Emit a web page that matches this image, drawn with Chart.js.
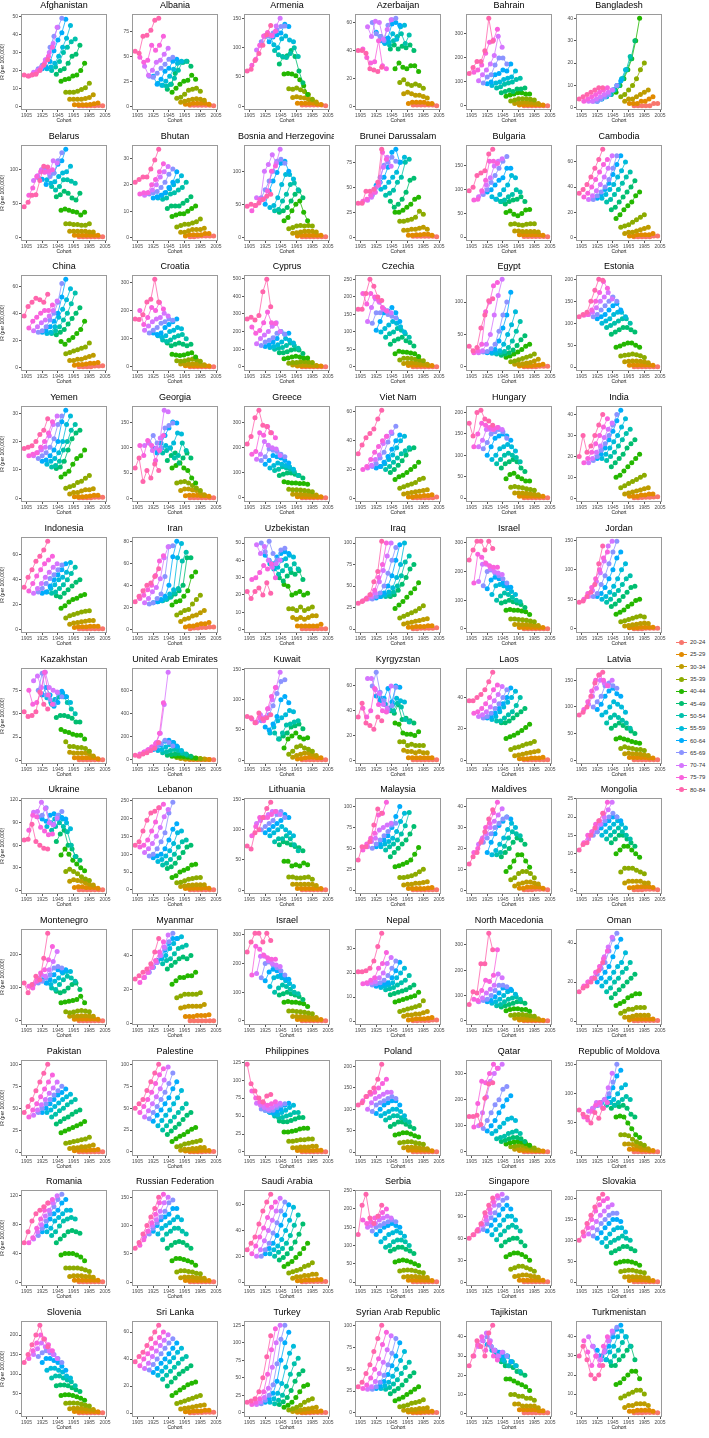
<!DOCTYPE html>
<html>
<head>
<meta charset="utf-8">
<script src="https://cdn.jsdelivr.net/npm/chart.js@4.4.0/dist/chart.umd.min.js"></script>
<style>
body{margin:0;background:#fff;width:709px;height:1438px;position:relative;overflow:hidden;font-family:"Liberation Sans",Arial,sans-serif}
canvas.panel{position:absolute}
#legend{position:absolute;left:676px;top:636px;font-size:6px;color:#333}
.item{height:12.3px;display:flex;align-items:center}
.key{position:relative;width:11px;height:6px;margin-right:3px}
.key i{position:absolute;left:0;right:0;top:2.5px;height:1px}
.key b{position:absolute;left:3px;top:0.5px;width:5px;height:5px;border-radius:50%}
</style>
</head>
<body>
<div id="legend"></div>
<script>
const ageGroups = ['20-24','25-29','30-34','35-39','40-44','45-49','50-54','55-59','60-64','65-69','70-74','75-79','80-84'];
const ageColors = ['#F8766D','#E18A00','#BE9C00','#8CAB00','#24B700','#00BE70','#00C1AB','#00BBDA','#00ACFC','#8B93FF','#D575FE','#F962DD','#FF65AC'];
// first birth cohort of each age group, then the 5-year steps of the periods
const cohortStart = [1972,1966,1960,1955,1949,1943,1937,1931,1925,1920,1914,1908,1902];
const periodOffsets = [0,5,10,15,20,25,30];
const xTicks = [1905,1925,1945,1965,1985,2005];

const countries = ['Afghanistan','Albania','Armenia','Azerbaijan','Bahrain','Bangladesh',
  'Belarus','Bhutan','Bosnia and Herzegovina','Brunei Darussalam','Bulgaria','Cambodia',
  'China','Croatia','Cyprus','Czechia','Egypt','Estonia',
  'Yemen','Georgia','Greece','Viet Nam','Hungary','India',
  'Indonesia','Iran','Uzbekistan','Iraq','Israel','Jordan',
  'Kazakhstan','United Arab Emirates','Kuwait','Kyrgyzstan','Laos','Latvia',
  'Ukraine','Lebanon','Lithuania','Malaysia','Maldives','Mongolia',
  'Montenegro','Myanmar','Israel','Nepal','North Macedonia','Oman',
  'Pakistan','Palestine','Philippines','Poland','Qatar','Republic of Moldova',
  'Romania','Russian Federation','Saudi Arabia','Serbia','Singapore','Slovakia',
  'Slovenia','Sri Lanka','Turkey','Syrian Arab Republic','Tajikistan','Turkmenistan'];

const yStep = [10,25,50,20,100,10,
  50,10,50,25,50,20,
  20,100,100,50,50,50,
  10,50,100,20,50,10,
  20,20,10,25,100,50,
  25,200,50,20,20,50,
  30,50,50,25,10,5,
  100,20,100,10,100,20,
  25,25,25,50,100,50,
  40,50,20,50,30,50,
  50,20,25,25,10,10];

// IR per 100,000; rows run from 80-84 down to 20-24, 7 periods each
const afghanistan = [[17.5,17,17.5,18,20,23,26],[17,18,19,21,24,28,33],[19,20,22,26,30,35,44],[21,23,26,33,39,44,49],[21,22,25,31,37,41,48.5],[21,22,24,28,33,38,45],[20,22,25,30,33,36,37.5],[18,20,21,24,28,29,34],[14,15,15.5,17,17.5,20,24],[8,8,8,8.5,9.5,10.5,13],[4,4,4,4,4.5,5,6.5],[1,1,1,1,1.2,1.5,2],[0.5,0.5,0.5,0.5,0.5,0.6,0.5]];
const albania = [[55,53,70,71,76,86,88],[49,44,46,61,56,61,70],[40,31,36,44,46,52,58],[30,29,33,38,42,47,49],[30,22,27,35,38,45,47],[23,21,25,30,37,43,45],[21,20,22,28,36,44,45],[17,22,33,44,44,45,40],[14,18,22,25,26,31,27],[8,9,12,16,17,18,15],[4,5,6,7,7.5,7,6],[2,2,3,3,3,3,2],[1,1,1,1,1,1,0.5]];
const armenia = [[60,63,78,90,104,122,138],[70,80,104,120,126,121,128],[96,104,120,122,120,137,150],[110,120,120,125,130,136,137],[120,110,118,122,125,140,136],[120,105,100,115,120,113,110],[95,88,85,83,90,100,85],[72,84,86,95,85,60,40],[55,56,55,52,45,35,20],[30,29,31,28,25,20,12],[15,16,15,14,12,10,7],[5,5,5,5,5,4,3],[2,2,2,2,2,2,1]];
const azerbaijan = [[40,40,38,27,26,25,28],[41,35,31,32,47,29,27],[57,50,61,60,48,55,62],[60,52,50,47,58,62,63],[53,47,46,49,59,60,58],[50,45,46,52,48,57,58],[48,44,47,50,52,45,51],[41,44,41,43,42,44,40],[27,31,28,27,29,29,25],[17,19,16,15,16,15,13],[9,10,9,8,8,7,6],[2,3,3,3,3,2,2],[1,1,1,1,1,1,0.5]];
const bahrain = [[135,160,185,185,230,365,270],[140,150,170,220,265,275,320],[105,130,150,175,210,290,245],[95,120,130,170,200,200,175],[92,100,130,135,150,145,175],[85,95,100,110,115,120,145],[75,80,90,95,100,110,115],[55,60,65,60,70,70,75],[40,45,50,55,55,50,50],[20,25,30,30,30,28,25],[10,12,15,15,14,12,10],[4,5,5,5,5,5,4],[1,1,1,1,1,1,1]];
const bangladesh = [[4,5,6,7,8,9,9],[3,4,5,6,7,8,9],[3,3,4,5,6,7,8],[3,3,4,5,6,8,10],[3,4,5,6,8,10,12],[4,5,6,8,10,13,17],[5,6,8,10,13,17,23],[6,8,10,13,17,22,30],[7,10,13,17,22,30,40],[5,6,8,10,13,17,20],[3,4,4,5,6,7,8],[2,2,2,3,3,4,5],[1,1,1,1,1,2,2]];
const belarus = [[45,52,62,63,84,105,104],[62,73,90,97,96,98,100],[84,91,100,97,95,113,110],[88,100,102,90,95,113,125],[86,78,92,95,108,113,130],[85,80,82,90,95,97,105],[75,70,75,85,85,83,80],[60,63,68,65,58,55,65],[40,42,40,38,37,33,37],[20,20,19,19,18,18,20],[9,9,9,9,9,8,8],[3,3,3,3,3,3,3],[1,1,1,1,1,1,1]];
const bhutan = [[21,22,23,23,26,29.5,33.5],[16.5,17,17,20,22,25,28],[16,17,18,20,23,25,27],[16.5,17,17.5,19,21,24,26],[15,15.5,16,17,19,21,25],[15,16,17,18.5,20,21.5,23.5],[14.5,15,16.5,17,18,19,21],[11,12,12,12,13,14,15.5],[8,8.5,9,9,10,11,12],[4,4.5,5,5,5.5,6,7],[2,2,2.5,3,3,3,3.5],[0.5,1,1,1,1,1.5,1.5],[0.3,0.3,0.4,0.5,0.5,0.5,0.5]];
const bosnia = [[47,50,48,52,57,62,65],[40,48,57,58,70,100,108],[60,56,100,110,125,112,133],[60,72,85,100,115,118,112],[50,70,85,98,112,115,100],[45,48,60,80,95,95,88],[40,42,55,65,80,82,72],[38,40,45,55,65,70,60],[25,30,40,50,55,38,25],[13,15,17,18,17,18,17],[6,7,8,9,9,9,8],[2,3,3,3,3,3,3],[1,1,1,1,1,1,1]];
const brunei = [[34,34,46,46,48,55,88],[36,38,42,45,52,85,78],[37,40,45,55,70,80,71],[42,50,60,72,75,80,76],[52,55,60,70,85,88,75],[48,50,55,60,65,75,80],[42,44,47,55,60,75,78],[36,30,33,38,45,57,59],[25,25,27,30,33,38,40],[16,16,17,18,20,26,23],[7,7,8,8,9,10,8],[2,2,2.5,2.5,3,3,2],[1,1,1,1,1,1,0.5]];
const bulgaria = [[98,105,130,135,140,175,185],[78,80,98,120,160,160,155],[85,95,110,125,150,160,165],[90,100,115,130,145,160,170],[95,100,110,120,125,145,145],[85,80,90,100,110,130,125],[80,75,78,85,90,100,95],[75,70,75,78,80,85,75],[52,55,48,45,50,57,58],[27,28,26,25,27,28,28],[13,13,12,12,12,12,11],[5,5,5,5,5,5,4],[1.5,1.5,1.5,1.5,1.5,1.5,1]];
const cambodia = [[35,38,42,48,55,62,70],[32,35,40,46,52,58,62],[30,33,37,42,48,55,65],[30,33,36,40,46,55,65],[31,34,38,43,50,58,65],[31,34,38,42,48,53,60],[28,30,34,38,43,48,52],[22,24,28,32,36,40,45],[15,18,22,25,28,33,36],[8,9,10,12,14,16,18],[3,4,4,5,6,7,8],[1,1,2,2,2,2,3],[0.5,0.5,0.5,0.5,0.5,1,1]];
const china = [[38,45,48,51,50,48,54],[29,34,37,40,42,42,46],[27,30,33,35,38,42,49],[26,27,30,35,40,48,62],[26,27,30,34,40,52,65],[25,26,30,37,43,50,58],[25,27,30,35,40,47,55],[24,26,28,32,36,40,44],[19,17,20,22,25,28,34],[10,11,12,13,14,15,18],[5,5,6,6,7,8,9],[1.5,2,2,2.5,3,3,3.5],[0.5,0.5,0.5,0.5,1,1,1.2]];
const croatia = [[170,168,185,230,240,310,230],[200,150,175,210,200,228,205],[130,145,160,170,175,190,180],[120,130,140,155,160,170,165],[120,115,120,140,150,160,170],[110,105,110,125,130,140,135],[95,90,95,105,110,115,100],[85,75,80,85,80,75,80],[45,42,40,42,47,50,35],[22,20,22,25,28,25,20],[10,10,10,11,12,10,8],[4,4,4,4,4,4,3],[1,1,1,1,1,1,1]];
const cyprus = [[270,280,265,290,425,495,340],[225,190,205,250,310,250,245],[130,160,180,200,230,250,200],[120,140,150,165,190,200,185],[115,125,140,160,200,185,190],[110,115,125,140,160,150,135],[100,105,110,120,135,120,105],[80,80,85,95,100,95,75],[45,50,55,60,55,50,50],[20,25,25,28,30,27,25],[10,12,12,12,12,10,8],[4,4,5,5,5,4,4],[1,1,1,1,1,1,1]];
const czechia = [[165,165,210,250,230,200,190],[210,180,210,200,190,170,160],[130,170,195,185,165,160,155],[125,155,155,165,150,145,140],[105,130,155,160,170,155,130],[100,110,120,130,125,115,100],[85,95,100,110,105,95,85],[65,75,80,85,75,70,60],[38,45,43,42,40,38,30],[20,25,25,24,22,20,18],[10,12,12,12,11,10,8],[4,5,5,5,5,4,4],[1,1,1,1,1,1,1]];
const egypt = [[32,25,30,60,80,102,105],[22,25,35,85,100,125,130],[22,25,35,50,80,110,135],[23,24,28,35,55,80,100],[22,23,27,40,60,80,115],[21,22,25,35,50,65,85],[20,22,24,30,40,55,70],[18,20,22,26,33,42,48],[15,17,20,23,27,32,35],[8,9,11,13,15,17,20],[4,4,5,6,7,9,12],[1.5,2,2,2,2.5,3,4],[0.5,0.5,0.5,0.5,1,1,1]];
const estonia = [[115,120,125,150,175,200,198],[118,120,130,150,170,195,180],[120,125,135,150,160,170,155],[115,120,130,140,150,160,150],[110,115,120,130,140,145,130],[100,105,110,120,125,125,115],[90,95,100,105,110,110,100],[75,80,85,90,90,85,80],[45,48,52,55,55,50,45],[25,27,28,30,28,26,22],[12,13,14,14,13,12,10],[4,5,5,5,5,5,4],[1,1,1,1,1,1,1]];
const yemen = [[17.5,18,18.5,20,22.5,24,28],[15,15.5,16,18,20,23,27],[15,16,17,18,22,26,29],[14,15,16,18,21,26,29],[13,13.5,15,17,20,27,31],[12,13,14,16,20,26,29],[11,11.5,13,17,20,24,26],[10.5,11,13,17,21,23,24],[7.5,8.5,9.5,12,14,15,17],[3.5,4,4.5,5.5,6,7,8],[1.5,2,2,2.5,3,3,3.3],[0.5,0.5,0.5,0.6,0.8,1,1],[0.2,0.2,0.2,0.2,0.3,0.3,0.3]];
const georgia = [[60,80,33,55,40,68,55],[105,85,115,105,75,95,125],[105,110,95,100,120,175,172],[110,125,110,100,140,145,150],[100,90,110,125,140,152,150],[95,100,105,100,110,130,128],[90,95,100,80,85,110,95],[75,85,90,70,80,90,80],[60,65,70,60,55,40,30],[30,32,33,30,25,20,15],[15,18,18,16,15,10,7],[5,6,6,6,5,5,4],[1,1,1,1,1,1,1]];
const greece = [[215,245,320,350,290,285,260],[175,185,260,250,285,260,240],[155,175,225,210,200,195,170],[150,165,195,190,185,175,165],[135,150,170,165,160,150,140],[120,130,140,135,130,125,115],[110,115,125,120,115,105,90],[90,95,100,100,95,90,80],[65,62,60,60,58,58,55],[35,33,33,32,30,28,25],[15,15,15,15,14,13,12],[5,5,5,5,5,5,5],[1,1,1,1,1,1,1]];
const vietNam = [[31,37,42,45,48,55,61],[20,22,27,32,36,40,43],[21,23,27,30,38,43,46],[22,24,28,32,39,45,50],[21,22,25,29,34,40,44],[22,24,27,30,35,40,43],[20,22,25,28,31,33,35],[18,20,23,26,30,34,35],[13,15,16,18,20,22,25],[7,8,9,10,11,13,14],[3,3.5,4,4.5,5,5.5,6],[1,1,1.5,1.5,2,2,2.5],[0.5,0.5,0.5,0.5,0.5,0.5,1]];
const hungary = [[175,145,200,205,185,180,170],[120,150,175,170,165,160,165],[120,135,160,160,162,165,160],[115,130,150,155,160,155,140],[100,120,140,145,150,145,135],[90,100,115,120,125,120,110],[80,90,100,105,100,95,85],[70,80,85,90,85,70,62],[45,55,58,50,45,40,40],[25,27,25,24,22,20,18],[12,12,12,11,10,9,8],[4,4,4,4,4,4,4],[1,1,1,1,1,1,1]];
const india = [[20,30,22,25,30,35,40],[17,19,22,26,30,34,38],[17,19,22,25,29,33,36],[18,20,23,26,30,35,40],[19,21,24,28,32,37,42],[19,21,24,27,30,34,38],[18,20,22,25,28,31,33],[15,17,19,21,24,26,28],[10,11,13,15,17,19,21],[5,6,7,8,9,10,11],[2,2.5,3,3.5,4,4.5,5],[1,1,1,1.5,1.5,2,2],[0.3,0.3,0.4,0.5,0.5,0.6,0.7]];
const indonesia = [[34,42,48,55,59,64,71],[31,37,43,48,53,56,59],[29,33,37,42,46,50,53],[30,33,37,41,44,48,52],[29,30,35,40,44,48,53],[30,33,36,40,42,46,54],[29,30,33,36,40,45,50],[27,26,29,32,35,38,40],[17,19,22,24,25,27,28],[9,11,12,13,14,14.5,15],[4,5,5.5,6,6.5,7,7],[1.5,2,2,2,2.5,2.5,2.5],[0.5,0.5,0.5,0.5,0.5,0.5,0.5]];
const iran = [[25,30,35,40,42,48,55],[28,31,36,40,49,62,67],[24,28,34,38,46,65,75],[23,24,28,32,48,75,76],[24,25,27,30,40,66,80],[25,26,28,32,36,65,78],[26,27,29,33,37,62,70],[28,30,32,35,40,65,65],[22,25,26,30,35,48,52],[13,15,17,18,23,27,31],[7,9,10,12,13,15,17],[2,3,3,4,5,5,6],[0.5,1,1,1.5,1.5,2,2]];
const uzbekistan = [[22,18,22,24,20,27,21],[29,30,33,37,35,38,30],[49,44,48,40,36,38,40],[50,45,51,44,40,46,47],[43,40,38,42,44,45,44],[38,35,36,40,41,43,42],[36,32,34,37,35,38,35],[30,28,31,33,32,34,29],[26,25,20,21,22,20,21],[12,12,11,13,11,12,13],[7,6,7,6,7,8,8],[2,2,2,2,2,2,3],[0.5,0.5,0.5,0.5,0.5,0.5,0.5]];
const iraq = [[30,32,35,40,55,67,102],[33,36,40,45,60,75,100],[35,38,42,55,68,85,100],[35,38,42,50,65,80,95],[36,38,42,50,62,80,98],[38,40,43,48,60,75,100],[38,40,43,50,62,78,85],[38,40,45,52,60,70,75],[24,28,32,37,42,47,54],[13,15,17,19,21,24,27],[6,7,8,9,10,11,12],[2,2,3,3,3,4,4],[0.5,0.5,1,1,1,1,1.5]];
const israel = [[240,275,305,305,275,305,280],[160,260,250,230,220,215,215],[165,225,225,210,200,195,190],[150,200,205,195,185,175,160],[140,170,180,175,160,150,145],[120,150,155,150,140,130,120],[100,115,125,120,110,100,95],[90,95,100,95,90,85,75],[65,68,65,65,62,60,50],[35,35,33,32,30,28,25],[15,15,15,15,14,13,12],[5,5,5,5,5,5,5],[1,1,1,1,1,1,1]];
const jordan = [[45,47,55,62,75,110,140],[50,60,70,85,100,120,130],[55,65,80,95,115,140,148],[55,60,75,90,110,130,148],[55,60,70,85,100,120,130],[50,55,62,72,85,100,110],[45,50,58,65,75,85,90],[38,42,48,55,62,70,72],[25,28,32,38,42,48,50],[12,14,16,18,20,22,20],[5,6,7,8,9,10,9],[2,2,2,3,3,3,3],[0.5,0.5,0.5,1,1,1,1]];
const kazakhstan = [[52,47,48,52,73,60,55],[75,60,62,72,94,70,60],[85,90,78,94,78,75,73],[75,93,70,65,60,72,68],[70,78,70,58,62,74,68],[67,62,65,72,72,68,62],[60,65,68,68,62,55,50],[46,48,48,47,45,41,41],[33,31,30,28,27,27,23],[20,15,15,14,14,13,10],[9,8,8,8,8,7,5],[3,3,3,3,3,3,2],[1,1,1,1,1,1,1]];
const uae = [[40,30,50,60,80,100,150],[50,65,85,110,140,230,495],[70,90,110,150,230,480,760],[80,100,120,140,170,150,120],[90,100,130,160,170,150,120],[80,90,110,130,150,110,80],[60,70,80,90,80,60,50],[40,45,50,55,50,40,30],[30,30,30,28,25,20,15],[20,20,18,17,15,12,10],[10,10,10,9,8,7,6],[5,5,5,4,4,4,3],[2,2,2,2,2,2,1]];
const kuwait = [[72,70,62,78,68,70,75],[68,62,70,65,85,105,120],[63,75,70,85,100,120,145],[65,70,75,90,110,130,133],[55,50,60,72,100,105,95],[45,55,65,70,75,82,80],[45,35,45,58,60,63,65],[35,40,45,55,57,60,52],[20,35,40,45,38,35,37],[10,15,22,24,20,18,15],[5,8,10,12,12,10,8],[2,3,4,5,5,4,4],[1,1,1,1,1,1,1]];
const kyrgyzstan = [[35,46,30,28,25,35,32],[42,35,40,58,45,40,39],[66,66,57,54,45,42,60],[60,71,55,48,40,44,59],[52,48,50,58,47,60,59],[50,45,42,45,50,48,47],[45,42,40,46,43,33,31],[40,38,45,33,34,32,30],[30,29,22,21,21,20,23],[15,15,12,13,12,12,12],[8,7,7,6,7,6,6],[2,2,2,2,2,2,2],[0.5,0.5,0.5,0.5,0.5,0.5,0.5]];
const laos = [[38,38,40,42,45,50,56],[30,31,33,36,40,45,48],[28,29,31,34,38,42,47],[27,28,30,33,36,40,45],[27,28,30,33,36,40,46],[26,28,31,34,37,40,44],[25,25,27,29,31,35,40],[24,24,25,27,29,31,33],[14,15,16,17.5,19,21,23],[7,8,8.5,9.5,10.5,11,12],[3,3.5,4,4.5,5,5.5,6],[1,1,1,1.5,1.5,1.5,2],[0.5,0.5,0.5,0.5,0.5,0.5,0.5]];
const latvia = [[85,90,100,120,145,160,165],[95,110,130,150,160,150,140],[105,120,135,150,145,140,150],[100,110,120,140,145,140,135],[95,105,120,130,135,125,120],[85,90,100,110,105,100,90],[70,80,85,80,75,70,60],[60,65,70,65,60,55,50],[40,42,40,38,35,33,32],[22,25,23,22,20,20,18],[12,13,12,12,11,10,9],[5,5,5,5,5,4,4],[1,1,1,1,1,1,1]];
const ukraine = [[67,68,88,65,60,56,55],[80,100,98,84,79,74,75],[104,105,117,109,90,87,96],[98,100,110,90,88,100,105],[95,92,100,102,95,97,95],[85,90,95,100,95,90,82],[80,85,90,85,78,60,45],[65,75,80,60,55,45,40],[47,55,48,40,35,30,26],[25,28,25,22,18,15,13],[12,14,13,12,10,8,7],[4,5,5,4,4,4,3],[1,1,1,1,1,1,1]];
const lebanon = [[125,135,165,195,215,220,230],[120,125,140,165,190,230,240],[105,115,130,150,175,205,225],[95,100,115,135,160,215,245],[90,95,100,115,140,170,185],[80,85,95,110,130,160,165],[70,75,85,100,120,135,140],[60,65,75,90,105,120,125],[35,40,50,55,60,70,72],[20,22,26,30,32,34,35],[10,12,13,14,15,15,15],[4,4,5,5,5,6,5],[1,1,1,1,1,1,1]];
const lithuania = [[73,68,95,100,120,135,145],[90,105,120,120,120,125,130],[110,115,120,125,130,130,125],[100,105,110,115,125,130,120],[95,100,105,110,115,125,120],[90,95,100,105,100,95,90],[80,85,85,90,85,75,65],[75,80,78,75,72,70,65],[48,48,40,42,40,45,42],[22,22,20,20,21,22,18],[10,10,10,10,10,10,8],[3,3,3,3,3,3,3],[1,1,1,1,1,1,1]];
const malaysia = [[36,52,52,58,78,97,92],[48,55,62,68,90,92,105],[52,58,62,72,75,78,80],[50,55,60,65,70,78,80],[52,55,60,65,75,88,100],[52,55,58,62,70,82,92],[48,52,55,60,67,77,93],[40,45,50,55,60,67,76],[28,29,31,33,36,43,51],[15,15,16,17,19,22,25],[6,7,7,8,8,9,10],[2,2,2,2,2,2.5,3],[0.5,0.5,0.5,0.5,0.5,0.5,0.5]];
const maldives = [[12.5,16,18,23,28,34,38.5],[18,20,24,30,32,37,42],[22,25,27,30,33,36,39],[23,25,27,30,32,34,35],[18,23,27,31,33,35,34],[17,19,22,25,29,32,30],[17,18,21,25,28,27,26],[16,18,20,23,25,24,22],[9,11,14,17,17,14,11],[5,6,8,9,9,8,6],[2,3,3.5,4,4,3.5,3],[1,1,1.5,1.5,1.5,1.5,1],[0.3,0.3,0.3,0.5,0.5,0.5,0.3]];
const mongolia = [[11,12.5,13,15,17,19,21],[13,15,16,18,19,21,24],[14,16,17,18,20,22,24],[15,16,18,19,20,21,20],[16,17,18,19,20,20,19],[15,16,17,18,19,18,17],[14,15,16,17,16,15,14],[13,14,15,15,14,13,12],[10,11,12,12,11,10,9],[5,6,6,6,5.5,5,4.5],[2,2.5,2.5,2.5,2.5,2,2],[0.7,0.8,1,1,1,1,0.8],[0.2,0.2,0.2,0.3,0.3,0.3,0.2]];
const montenegro = [[115,85,110,135,125,190,265],[105,100,120,145,155,185,225],[110,130,140,135,155,180,210],[115,120,130,140,160,165,160],[125,115,125,140,155,150,155],[115,110,120,130,145,150,150],[100,95,110,125,135,130,120],[90,85,90,100,110,115,95],[55,57,60,62,65,75,55],[28,25,27,30,32,30,28],[14,14,15,16,16,15,14],[5,5,6,6,6,6,5],[1,1,1,1,1,1,1]];
const myanmar = [[26,28,30,32,35,42,50],[24,27,30,33,37,42,48],[27,30,33,36,40,45,52],[30,33,36,40,44,48,53],[33,36,39,43,47,50,50],[37,38,40,44,47,50,51],[35,37,38,41,44,45,46],[32,34,36,38,39,38,40],[23,25,27,27,28,28,30],[15,16,17,17,17,17,18],[9,9.5,10,10,10,10,11],[4,4,4,4.5,4.5,4.5,5],[1.5,1.5,1.5,1.5,1.5,1.5,1.5]];
const nepal = [[20.5,20.5,21,22,25,31,36.5],[15.5,16,17,18,22,24,28.5],[15.5,16,16.5,18,20,24,26.5],[15,15.5,16,17,19,22,25],[14.5,15,15.5,16,18,21,24.5],[14,14.5,15,16,18,20,22],[13,13.5,14,15,16,17,19],[11,11.5,12,12.5,13,14,15],[8,8.5,9,9.5,10,10.5,12],[4,4.5,5,5.5,6,6.5,8.5],[2,2.5,2.5,3,3,3.5,4],[0.5,0.7,1,1,1,1.2,1.5],[0.2,0.2,0.3,0.3,0.3,0.5,0.5]];
const northMacedonia = [[65,115,110,225,225,345,280],[85,80,120,160,155,180,280],[75,90,110,125,140,185,170],[80,85,100,120,140,140,135],[75,80,95,110,130,130,125],[70,75,85,100,115,120,105],[60,65,75,85,90,95,85],[55,60,65,70,75,75,70],[40,45,48,48,45,45,38],[22,24,25,25,23,20,18],[10,11,12,12,11,10,8],[4,4,4,4,4,4,3],[1,1,1,1,1,1,1]];
const oman = [[15,17,18,20,22,26,30],[18,20,22,25,28,32,36],[20,22,25,28,33,38,43],[22,24,27,30,36,42,45],[20,22,25,28,33,38,42],[18,20,22,25,28,30,35],[15,17,20,22,25,27,30],[12,14,16,18,20,22,24],[8,9,10,12,13,14,14],[4,5,6,6,7,7,7],[2,2,2.5,3,3,3,3],[0.5,1,1,1,1,1,1],[0.2,0.2,0.3,0.3,0.3,0.3,0.3]];
const pakistan = [[45,52,60,70,80,90,100],[40,48,55,63,72,80,88],[42,48,54,60,67,73,80],[45,50,55,60,65,70,75],[45,50,55,60,65,68,72],[45,48,52,56,60,63,66],[40,43,47,50,54,57,60],[32,35,38,40,43,46,48],[22,24,26,28,30,32,35],[10,11,12,13,14,15,17],[4,5,5,6,6,7,8],[1.5,2,2,2,2.5,2.5,3],[0.5,0.5,0.5,0.5,0.5,0.5,0.5]];
const palestine = [[50,55,60,70,80,90,100],[45,52,60,68,78,88,95],[40,47,55,63,72,82,97],[38,45,52,60,68,78,90],[35,42,48,55,62,72,80],[30,36,42,48,55,62,70],[25,30,35,40,45,50,55],[20,24,28,32,37,42,45],[12,15,18,20,23,26,28],[6,7,9,10,11,12,13],[2,3,3,4,4,5,5],[1,1,1,1,1.5,1.5,1.5],[0.3,0.3,0.3,0.3,0.5,0.5,0.5]];
const philippines = [[122,95,85,75,70,78,80],[85,75,70,68,65,67,70],[68,65,62,60,62,65,68],[60,58,57,58,62,65,67],[58,56,55,57,60,65,68],[55,53,52,55,58,62,65],[50,48,48,50,52,55,55],[43,42,42,44,46,48,48],[28,28,29,30,32,33,33],[15,15,16,17,17,18,18],[6,6,7,7,7,8,8],[2,2,2,2,2,2.5,2.5],[0.5,0.5,0.5,0.5,0.5,0.5,0.5]];
const poland = [[110,115,130,140,150,170,205],[120,130,135,140,150,160,170],[100,115,125,130,135,140,140],[95,110,115,120,125,130,125],[90,100,110,115,120,120,110],[85,90,95,100,100,95,85],[75,80,85,85,80,75,70],[60,65,70,70,65,60,55],[40,42,45,45,42,38,35],[22,23,24,24,22,20,18],[10,11,11,11,10,9,8],[4,4,4,4,4,4,3],[1,1,1,1,1,1,1]];
const qatar = [[135,135,140,105,205,260,265],[95,185,270,265,300,335,320],[100,150,210,270,300,320,335],[90,120,150,180,200,240,250],[80,100,120,150,175,200,215],[70,80,95,110,125,130,120],[50,55,60,70,75,80,70],[40,45,50,55,55,50,40],[30,35,38,40,38,32,25],[20,22,25,25,22,18,15],[10,12,12,12,10,8,7],[5,5,5,5,4,4,3],[1,1,1,1,1,1,1]];
const moldova = [[72,65,60,50,68,58,75],[60,55,70,80,85,75,85],[70,75,85,80,90,110,135],[75,80,85,90,100,120,150],[80,85,90,95,110,130,140],[85,90,85,90,100,110,115],[80,85,80,85,90,95,90],[75,80,78,80,75,65,60],[60,62,60,50,40,30,25],[30,30,28,22,18,15,12],[14,14,13,11,9,7,6],[5,5,5,4,4,3,3],[1,1,1,1,1,1,1]];
const romania = [[55,70,85,95,100,105,110],[55,62,75,88,100,110,115],[60,70,80,92,100,110,120],[65,75,85,95,105,115,122],[70,78,88,95,100,110,115],[70,75,85,90,95,100,100],[65,70,78,85,88,90,88],[55,60,65,70,72,70,68],[38,40,40,40,38,35,30],[20,20,20,20,19,17,15],[8,9,9,9,8,8,7],[3,3,3,3,3,3,3],[1,1,1,1,1,1,1]];
const russia = [[60,70,85,100,115,130,150],[65,75,90,105,120,140,155],[80,90,100,110,125,140,150],[85,95,105,115,125,140,145],[90,100,110,115,120,130,130],[85,95,100,105,110,115,110],[75,85,90,95,95,90,85],[60,65,70,72,70,65,60],[38,42,42,40,38,35,30],[18,20,20,19,18,16,15],[8,9,9,9,8,8,7],[3,3,3,3,3,3,3],[1,1,1,1,1,1,1]];
const saudiArabia = [[25,30,35,45,55,62,68],[22,28,35,42,50,58,62],[20,25,32,40,48,55,65],[20,25,30,38,46,55,62],[22,26,30,36,44,52,60],[22,25,28,33,40,48,58],[20,23,26,30,36,44,52],[17,19,22,26,31,37,45],[12,14,16,19,22,26,30],[7,8,9,10,12,13,15],[3,4,4,5,5,6,6],[1,1,1.5,1.5,1.5,2,2],[0.3,0.3,0.4,0.5,0.5,0.5,0.5]];
const serbia = [[130,210,240,175,160,180,210],[170,160,165,175,180,190,200],[150,155,160,170,175,180,175],[140,150,155,160,165,170,165],[130,140,150,155,160,155,150],[110,120,130,135,140,135,125],[95,100,110,115,115,110,100],[85,90,95,95,90,85,78],[55,58,60,58,55,50,45],[30,32,33,32,30,27,25],[14,15,15,15,14,13,12],[5,5,5,5,5,5,4],[1,1,1,1,1,1,1]];
const singapore = [[60,65,70,80,95,105,115],[65,72,80,90,100,110,118],[70,78,85,95,105,115,120],[72,80,88,95,105,112,115],[70,78,85,92,100,105,100],[65,72,78,85,90,90,85],[58,65,70,75,78,75,70],[50,55,58,60,60,55,50],[35,38,40,40,38,35,30],[18,20,22,22,20,18,15],[8,9,10,10,9,8,7],[3,3,3,3,3,3,3],[1,1,1,1,1,1,1]];
const slovakia = [[100,120,140,160,180,200,210],[110,130,150,170,185,195,200],[115,130,145,160,170,180,185],[110,125,140,150,160,165,165],[105,118,130,140,150,150,145],[95,105,115,125,130,130,120],[85,95,100,105,110,105,100],[70,75,80,85,85,80,75],[45,48,50,50,48,45,40],[25,27,28,28,26,24,22],[12,13,13,13,12,11,10],[4,5,5,5,5,4,4],[1,1,1,1,1,1,1]];
const slovenia = [[130,150,175,200,225,190,170],[140,160,180,200,190,175,160],[150,165,180,170,160,150,140],[145,155,160,155,150,140,130],[130,140,140,135,130,120,110],[110,115,115,110,105,95,90],[90,95,95,90,85,80,70],[70,72,72,70,65,60,55],[45,47,47,45,42,38,33],[25,26,26,25,23,20,18],[11,12,12,12,11,10,9],[4,4,4,4,4,4,3],[1,1,1,1,1,1,1]];
const sriLanka = [[38,42,45,50,55,60,65],[35,40,44,48,52,56,60],[33,37,42,46,50,54,58],[32,36,40,44,48,52,55],[30,33,37,40,44,48,52],[28,31,34,38,41,45,48],[25,28,31,34,37,40,42],[20,23,26,29,31,33,35],[13,15,17,19,21,22,23],[7,8,9,10,11,12,13],[3,3.5,4,4.5,5,5.5,6],[1,1,1.5,1.5,1.5,2,2],[0.3,0.3,0.4,0.4,0.5,0.5,0.5]];
const turkey = [[15,17,20,30,50,80,110],[12,15,20,30,55,90,120],[12,16,22,35,65,100,125],[13,18,25,40,70,105,125],[15,20,28,45,75,100,115],[15,20,28,42,65,85,95],[13,18,25,38,55,70,78],[12,16,22,32,45,55,60],[8,11,15,22,30,38,40],[4,6,8,11,15,18,20],[2,3,4,5,6,7,8],[1,1,1,1.5,2,2,2.5],[0.3,0.3,0.3,0.5,0.5,0.5,0.5]];
const syria = [[30,35,45,55,70,85,100],[28,32,40,50,62,78,92],[27,30,36,45,58,72,88],[27,30,35,43,55,68,85],[28,31,36,44,54,65,80],[28,31,35,42,50,60,70],[27,29,33,38,45,52,58],[22,25,28,32,37,42,46],[14,16,18,21,24,27,30],[7,8,9,11,12,13,15],[3,3,4,4,5,5,6],[1,1,1,1,1.5,1.5,2],[0.3,0.3,0.3,0.4,0.5,0.5,0.5]];
const tajikistan = [[25,30,38,35,30,42,46],[30,36,40,33,37,30,28],[35,38,42,38,33,30,32],[38,40,35,33,30,32,30],[36,35,33,32,30,30,27],[33,32,30,28,30,27,25],[30,28,27,25,27,25,22],[27,25,25,24,22,21,20],[18,18,17,16,15,14,12],[10,10,9,9,8,8,7],[5,5,4,4,4,4,3],[2,2,2,2,2,1.5,1.5],[0.5,0.5,0.5,0.5,0.5,0.5,0.5]];
const turkmenistan = [[30,35,28,20,18,20,25],[38,32,25,30,25,35,40],[40,35,30,28,32,38,43],[35,30,28,33,38,42,45],[33,30,32,35,40,44,46],[30,28,32,35,40,43,40],[28,27,30,33,37,40,35],[25,25,28,30,33,35,28],[15,16,18,20,22,22,18],[8,9,10,11,12,12,10],[3,4,4,5,5,5,4],[1,1,1.5,1.5,1.5,1.5,1],[0.3,0.3,0.3,0.4,0.4,0.4,0.3]];

const countryData = [afghanistan,albania,armenia,azerbaijan,bahrain,bangladesh,
  belarus,bhutan,bosnia,brunei,bulgaria,cambodia,
  china,croatia,cyprus,czechia,egypt,estonia,
  yemen,georgia,greece,vietNam,hungary,india,
  indonesia,iran,uzbekistan,iraq,israel,jordan,
  kazakhstan,uae,kuwait,kyrgyzstan,laos,latvia,
  ukraine,lebanon,lithuania,malaysia,maldives,mongolia,
  montenegro,myanmar,israel,nepal,northMacedonia,oman,
  pakistan,palestine,philippines,poland,qatar,moldova,
  romania,russia,saudiArabia,serbia,singapore,slovakia,
  slovenia,sriLanka,turkey,syria,tajikistan,turkmenistan];

const FONT = '"Liberation Sans", Arial, sans-serif';
const colLeft = [0, 111, 223, 334, 445, 555];
const rowH = 130.7;

// box around the panel and the country name above it
const panelFrame = {
  id: 'panelFrame',
  afterDraw(chart) {
    const a = chart.chartArea, ctx = chart.ctx;
    ctx.save();
    ctx.strokeStyle = '#9a9a9a';
    ctx.lineWidth = 1;
    ctx.strokeRect(Math.round(a.left) + 0.5, Math.round(a.top) + 0.5,
      Math.round(a.right - a.left) - 1, Math.round(a.bottom - a.top) - 1);
    ctx.fillStyle = '#000';
    ctx.font = '9px ' + FONT;
    ctx.textAlign = 'center';
    ctx.textBaseline = 'middle';
    ctx.fillText(chart.options.plugins.panelFrame.name, (a.left + a.right) / 2, 6);
    ctx.restore();
  }
};

countries.forEach((name, n) => {
  const col = n % 6, row = Math.floor(n / 6);
  const rows = countryData[n];
  const cv = document.createElement('canvas');
  cv.className = 'panel';
  cv.width = 111; cv.height = 131;
  cv.style.left = colLeft[col] + 'px';
  cv.style.top = Math.round(row * rowH) + 'px';
  document.body.appendChild(cv);

  const all = rows.flat();
  const lo = Math.min(...all), hi = Math.max(...all);
  const pad = (hi - lo) * 0.05;
  const step = yStep[n];

  const datasets = ageGroups.map((age, i) => ({
    label: age,
    data: rows[12 - i].map((v, k) => ({ x: cohortStart[i] + periodOffsets[k], y: v })),
    borderColor: ageColors[i],
    backgroundColor: ageColors[i],
    borderWidth: 0.8,
    pointRadius: 2.5,
    pointBorderWidth: 0,
    order: 12 - i
  }));

  new Chart(cv, {
    type: 'line',
    data: { datasets },
    options: {
      responsive: false,
      animation: false,
      events: [],
      layout: { padding: { top: 14, right: 3, bottom: 7, left: 0 } },
      plugins: {
        legend: { display: false },
        tooltip: { enabled: false },
        panelFrame: { name }
      },
      scales: {
        x: {
          type: 'linear', min: 1898, max: 2007.5,
          afterBuildTicks: s => { s.ticks = xTicks.map(v => ({ value: v })); },
          afterFit: s => { s.height = 14; s.paddingLeft = 0; s.paddingRight = 0; },
          ticks: { autoSkip: false, maxRotation: 0, font: { size: 5, family: FONT }, color: '#4d4d4d', padding: 1,
                   callback: v => String(v) },
          grid: { drawOnChartArea: false, tickLength: 2, color: '#555' },
          border: { display: false },
          title: { display: true, text: 'Cohort', font: { size: 5, family: FONT }, color: '#222', padding: 0 }
        },
        y: {
          type: 'linear', min: lo - pad, max: hi + pad,
          afterBuildTicks: s => {
            const t = [];
            for (let v = 0; v <= s.max; v += step) if (v >= s.min) t.push({ value: v });
            s.ticks = t;
          },
          afterFit: s => { s.width = 21; s.paddingTop = 0; s.paddingBottom = 0; },
          ticks: { font: { size: 5, family: FONT }, color: '#4d4d4d', padding: 1, callback: v => String(v) },
          grid: { drawOnChartArea: false, tickLength: 2, color: '#555' },
          border: { display: false },
          title: { display: col === 0, text: 'IR (per 100,000)', font: { size: 5, family: FONT }, color: '#222', padding: 0 }
        }
      }
    },
    plugins: [panelFrame]
  });
});

// shared legend on the right
const legend = document.getElementById('legend');
ageGroups.forEach((age, i) => {
  const it = document.createElement('div');
  it.className = 'item';
  it.innerHTML = '<span class="key"><i style="background:' + ageColors[i] + '"></i><b style="background:' + ageColors[i] + '"></b></span>' + age;
  legend.appendChild(it);
});
</script>
</body>
</html>
